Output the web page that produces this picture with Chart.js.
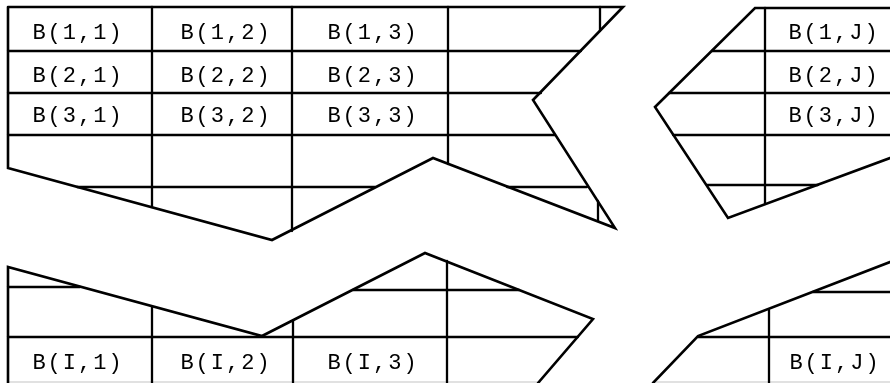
<!DOCTYPE html>
<html>
<head>
<meta charset="utf-8">
<script src="https://cdn.jsdelivr.net/npm/chart.js@4.4.1/dist/chart.umd.min.js"></script>
<style>
  html, body { margin: 0; padding: 0; background: #fff; }
  #matrix { display: block; }
</style>
</head>
<body>
<canvas id="matrix" width="890" height="383"></canvas>
<script>
// drawing is in picture units: x 0..890, y 0..383 (y grows downward)

// cut outlines (the torn zigzag edges and outer borders)
const outlines = [
  [[8, 7], [623, 7], [533, 100], [615, 228], [433, 158], [272, 240], [8, 168], [8, 7]],
  [[890, 8], [755, 8], [655, 107], [728, 218], [890, 158]],
  [[8, 383], [8, 267], [262, 336], [425, 253], [593, 319], [538, 383]],
  [[653, 383], [698, 336], [890, 262]]
];

// horizontal row rules
const rowRules = [
  [[8, 51], [581, 51]],
  [[8, 93], [541, 93]],
  [[8, 135], [555, 135]],
  [[77, 187], [375, 187]],
  [[507, 187], [587, 187]],
  [[712, 51], [890, 51]],
  [[669, 93], [890, 93]],
  [[673, 135], [890, 135]],
  [[707, 185], [818, 185]],
  [[8, 287], [80, 287]],
  [[353, 290], [519, 290]],
  [[8, 337], [578, 337]],
  [[698, 337], [890, 337]],
  [[813, 292], [890, 292]]
];

// vertical column rules
const colRules = [
  [[152, 7], [152, 207]],
  [[292, 7], [292, 231]],
  [[448, 7], [448, 164]],
  [[600, 7], [600, 31]],
  [[598, 201], [598, 221]],
  [[765, 8], [765, 204]],
  [[152, 307], [152, 383]],
  [[293, 321], [293, 383]],
  [[447, 261], [447, 383]],
  [[769, 310], [769, 383]]
];

// faint bottom edge of the last row
const bottomEdge = [
  [[8, 382], [540, 382]],
  [[655, 382], [890, 382]]
];

const cellLabels = [
  "B(1,1)", "B(1,2)", "B(1,3)", "B(1,J)",
  "B(2,1)", "B(2,2)", "B(2,3)", "B(2,J)",
  "B(3,1)", "B(3,2)", "B(3,3)", "B(3,J)",
  "B(I,1)", "B(I,2)", "B(I,3)", "B(I,J)"
];
const labelX = [
  77, 225, 372, 833,
  77, 225, 372, 833,
  77, 225, 372, 833,
  77, 225, 372, 834
];
const labelY = [
  39, 39, 39, 39,
  82, 82, 82, 82,
  122, 122, 122, 122,
  369, 369, 369, 369
];

function toPoints(line) {
  return line.map(p => ({ x: p[0], y: p[1] }));
}

const datasets = [];
outlines.forEach(l => datasets.push({ data: toPoints(l), borderColor: "#000", borderWidth: 2.6 }));
rowRules.forEach(l => datasets.push({ data: toPoints(l), borderColor: "#000", borderWidth: 2.3 }));
colRules.forEach(l => datasets.push({ data: toPoints(l), borderColor: "#000", borderWidth: 2.3 }));
bottomEdge.forEach(l => datasets.push({ data: toPoints(l), borderColor: "#d8d8d8", borderWidth: 1.5 }));
datasets.forEach(d => {
  d.showLine = true;
  d.pointRadius = 0;
  d.fill = false;
  d.tension = 0;
  d.borderCapStyle = "round";
  d.borderJoinStyle = "miter";
});

const cellText = {
  id: "cellText",
  afterDatasetsDraw(chart) {
    const ctx = chart.ctx;
    const xs = chart.scales.x, ys = chart.scales.y;
    ctx.save();
    ctx.fillStyle = "#000";
    ctx.font = "22px 'Liberation Mono', 'Courier New', monospace";
    ctx.letterSpacing = "2px";
    ctx.textAlign = "center";
    ctx.textBaseline = "alphabetic";
    cellLabels.forEach((t, i) => {
      ctx.fillText(t, xs.getPixelForValue(labelX[i]) + 1, ys.getPixelForValue(labelY[i]));
    });
    ctx.restore();
  }
};

new Chart(document.getElementById("matrix").getContext("2d"), {
  type: "scatter",
  data: { datasets: datasets },
  options: {
    responsive: false,
    animation: false,
    layout: { padding: 0 },
    plugins: { legend: { display: false }, tooltip: { enabled: false } },
    scales: {
      x: { type: "linear", min: 0, max: 890, display: false },
      y: { type: "linear", min: 0, max: 383, reverse: true, display: false }
    }
  },
  plugins: [cellText]
});
</script>
</body>
</html>
